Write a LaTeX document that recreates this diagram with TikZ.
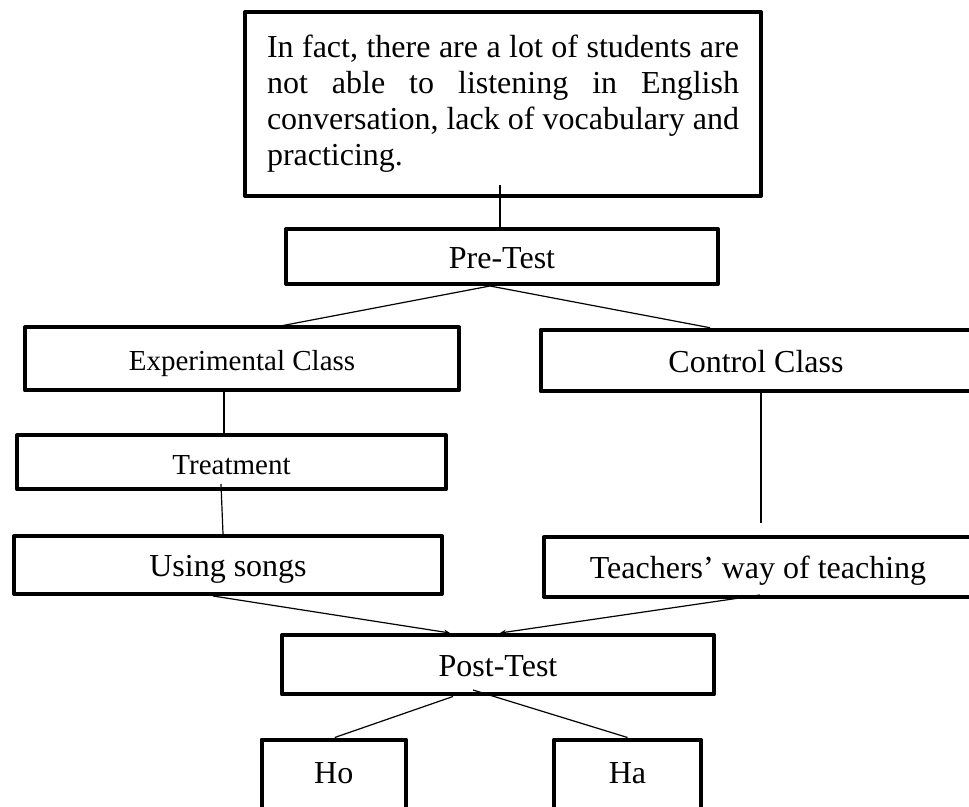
\documentclass[tikz,border=0pt]{standalone}
\usepackage{fontspec}
\setmainfont{Liberation Serif}
\usetikzlibrary{arrows.meta}
\begin{document}
\begin{tikzpicture}[x=1pt, y=1pt, >={Stealth[length=6pt,width=5pt]},
  frame/.style={draw, line width=4pt, line join=round, inner sep=0pt},
  box/.style={frame, text height=24pt, text depth=0pt, font=\fontsize{32}{36}\selectfont},
  small/.style={font=\fontsize{29}{35}\selectfont},
  hyp/.style={text depth=8pt},
  link/.style={line width=1.2pt}]
  % 1px = 1pt (969x806), 右端と下端の枠は切れる
  \useasboundingbox (0,0) rectangle (969,806);
  \clip (0,0) rectangle (969,806);
  \node[frame, minimum width=516pt, minimum height=184pt, text width=472pt, align=left,
    font=\fontsize{32}{36}\selectfont] (prob) at (503,702)
    {\makebox[472pt][l]{In\hfill fact,\hfill there\hfill are\hfill a\hfill lot\hfill of\hfill students\hfill are}\\
     \makebox[472pt][l]{not\hfill able\hfill to\hfill listening\hfill in\hfill English}\\
     \makebox[472pt][l]{conversation,\hfill lack\hfill of\hfill vocabulary\hfill and}\\
     practicing.};
  \node[box, minimum width=432pt, minimum height=55pt] (pre) at (502,549.5) {Pre-Test};
  \node[box, small, minimum width=434pt, minimum height=63pt] (exp) at (242,447) {Experimental Class};
  \node[box, minimum width=431pt, minimum height=61.5pt] (ctrl) at (756,445.5) {Control Class};
  \node[box, small, minimum width=429pt, minimum height=54pt] (treat) at (231.5,343.5) {Treatment};
  \node[box, minimum width=428pt, minimum height=58pt] (song) at (228,241) {Using songs};
  \node[box, minimum width=428pt, minimum height=60pt] (teach) at (758,239) {Teachers’ way of teaching};
  \node[box, minimum width=432pt, minimum height=59.5pt] (post) at (498,141.25) {Post-Test};
  \node[box, hyp, minimum width=144.5pt, minimum height=71pt] (ho) at (333.75,31) {Ho};
  \node[box, hyp, minimum width=147pt, minimum height=71pt] (ha) at (627.5,31) {Ha};
  \draw[link] ([shift={(-3,13)}]prob.south) -- ([xshift=-2pt]pre.north);
  \draw[link] ([xshift=-12pt]pre.south) -- ([xshift=41pt]exp.north);
  \draw[link] ([xshift=-12pt]pre.south) -- ([xshift=-46pt]ctrl.north);
  \draw[link] ([xshift=-18pt]exp.south) -- ([xshift=-7.5pt]treat.north);
  \draw[link] ([shift={(-10.5,7.5)}]treat.south) -- ([xshift=-5pt]song.north);
  \draw[link] ([shift={(5,4)}]ctrl.south) -- ([shift={(3,12)}]teach.north);
  \draw[link,->] ([xshift=-15pt]song.south) -- ([xshift=-48pt]post.north);
  \draw[link,->] ([shift={(2,4)}]teach.south) -- ([xshift=2pt]post.north);
  \draw[link] ([xshift=-45pt]post.south) -- ([xshift=1pt]ho.north);
  \draw[link] ([shift={(-25,6.5)}]post.south) -- (ha.north);
\end{tikzpicture}
\end{document}
